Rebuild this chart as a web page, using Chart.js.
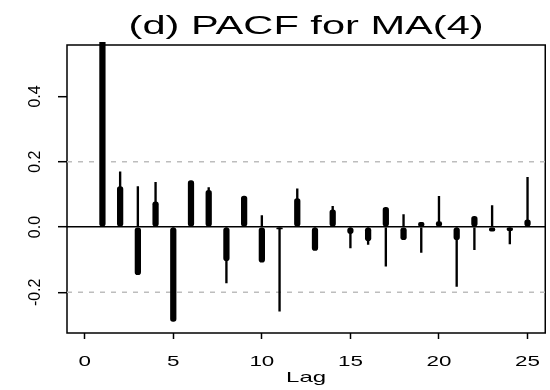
<!DOCTYPE html>
<html>
<head>
<meta charset="utf-8">
<script src="https://cdn.jsdelivr.net/npm/chart.js@4"></script>
<style>
  html, body { margin: 0; padding: 0; background: #ffffff; }
  canvas { display: block; }
</style>
</head>
<body>
<canvas id="pacf" width="550" height="390"></canvas>
<script>
// Sample partial autocorrelations at lags 1..25 (two estimates per lag)
const lags = [1, 2, 3, 4, 5, 6, 7, 8, 9, 10, 11, 12, 13, 14, 15, 16, 17, 18, 19, 20, 21, 22, 23, 24, 25];
const pacfThick = [0.600, 0.124, -0.146, 0.077, -0.289, 0.142, 0.112, -0.103, 0.095, -0.108,
                   -0.006, 0.087, -0.072, 0.053, -0.020, -0.042, 0.060, -0.039, 0.014, 0.017,
                   -0.039, 0.033, -0.013, -0.011, 0.022];
const pacfThin  = [0.580, 0.169, 0.124, 0.137, -0.250, 0.130, 0.121, -0.171, 0.080, 0.035,
                   -0.258, 0.117, -0.050, 0.063, -0.064, -0.053, -0.120, 0.038, -0.078, 0.094,
                   -0.182, -0.069, 0.066, -0.052, 0.152];
// Approximate 95% bounds (+/- 2/sqrt(n))
const ciBounds = [0.2, -0.2];
const xTickValues = [0, 5, 10, 15, 20, 25];
const yTickValues = [-0.2, 0.0, 0.2, 0.4];
const xLimits = [-1, 26];
const yLimits = [-0.3246, 0.5575];

const TEXT_WIDE = 1.6; // horizontal stretch for upright text

Chart.defaults.font.family = "'Liberation Sans', Arial, Helvetica, sans-serif";
Chart.defaults.color = '#000000';

// Upright labels are drawn horizontally widened; rotated labels are left as is.
const wideText = {
  id: 'wideText',
  beforeInit(chart) {
    const ctx = chart.ctx;
    const fill = ctx.fillText;
    ctx.fillText = function (text, x, y, maxWidth) {
      const m = this.getTransform();
      if (Math.abs(m.b) > 1e-6 || Math.abs(m.c) > 1e-6) {
        return maxWidth === undefined ? fill.call(this, text, x, y) : fill.call(this, text, x, y, maxWidth);
      }
      this.save();
      this.translate(x, y);
      this.scale(TEXT_WIDE, 1);
      if (maxWidth === undefined) fill.call(this, text, 0, 0);
      else fill.call(this, text, 0, 0, maxWidth / TEXT_WIDE);
      this.restore();
    };
  }
};

// Box around the plotting region
const plotFrame = {
  id: 'plotFrame',
  beforeDatasetsDraw(chart) {
    const {ctx, chartArea: a} = chart;
    ctx.save();
    ctx.strokeStyle = '#000000';
    ctx.lineWidth = 1.5;
    ctx.strokeRect(a.left, a.top, a.right - a.left, a.bottom - a.top);
    ctx.restore();
  }
};

const toPoints = (ys) => lags.map((x, i) => ({x: x, y: ys[i]}));
const boundLine = (v) => xLimits.map((x) => ({x: x, y: v}));

const datasets = [
  {
    type: 'bar',
    data: toPoints(pacfThin),
    backgroundColor: '#000000',
    barThickness: 1.7,
    grouped: false,
    order: 2
  },
  {
    type: 'bar',
    data: toPoints(pacfThick),
    backgroundColor: '#000000',
    barThickness: 5.6,
    borderRadius: 2.8,
    borderSkipped: false,
    grouped: false,
    clip: {left: 0, top: 3, right: 0, bottom: 0},
    order: 1
  }
].concat(ciBounds.map((v) => ({
  type: 'line',
  data: boundLine(v),
  borderColor: '#bdbdbd',
  borderWidth: 1.5,
  borderDash: [5, 6],
  pointRadius: 0,
  fill: false,
  order: 3
})));

new Chart(document.getElementById('pacf'), {
  type: 'bar',
  data: { datasets: datasets },
  plugins: [wideText, plotFrame],
  options: {
    responsive: false,
    animation: false,
    events: [],
    layout: { padding: { left: 0, right: 1, top: 0, bottom: 0 } },
    plugins: {
      legend: { display: false },
      tooltip: { enabled: false },
      title: {
        display: true,
        text: '(d) PACF for MA(4)',
        fullSize: false,
        color: '#000000',
        font: { size: 26, weight: 'normal', lineHeight: 1.2 },
        padding: { top: 11.5, bottom: 2.3 }
      }
    },
    scales: {
      x: {
        type: 'linear',
        offset: false,
        min: xLimits[0],
        max: xLimits[1],
        afterBuildTicks: (s) => { s.ticks = xTickValues.map((v) => ({value: v})); },
        afterFit: (s) => { s.height = 57; },
        border: { display: false },
        grid: {
          offset: false,
          drawOnChartArea: false,
          drawTicks: true,
          tickLength: 6,
          tickColor: '#000000',
          tickWidth: 1.5
        },
        ticks: {
          padding: 14.5,
          maxRotation: 0,
          minRotation: 0,
          autoSkip: false,
          color: '#000000',
          font: { size: 14 },
          callback: (v) => String(v)
        },
        title: {
          display: true,
          text: 'Lag',
          color: '#000000',
          font: { size: 15, lineHeight: 1.2 },
          padding: { top: 0, bottom: 3.2 }
        }
      },
      y: {
        type: 'linear',
        min: yLimits[0],
        max: yLimits[1],
        afterBuildTicks: (s) => { s.ticks = yTickValues.map((v) => ({value: v})); },
        afterFit: (s) => { s.width = 67; },
        border: { display: false },
        grid: {
          drawOnChartArea: true,
          color: (c) => (c.tick && c.tick.value === 0 ? '#000000' : 'rgba(0,0,0,0)'),
          lineWidth: 1.4,
          drawTicks: true,
          tickLength: 9,
          tickColor: '#000000',
          tickWidth: 1.5
        },
        ticks: {
          minRotation: 90,
          maxRotation: 90,
          crossAlign: 'center',
          padding: 8.2,
          autoSkip: false,
          color: '#000000',
          font: { size: 16 },
          callback: (v) => v.toFixed(1)
        }
      }
    }
  }
});
</script>
</body>
</html>
